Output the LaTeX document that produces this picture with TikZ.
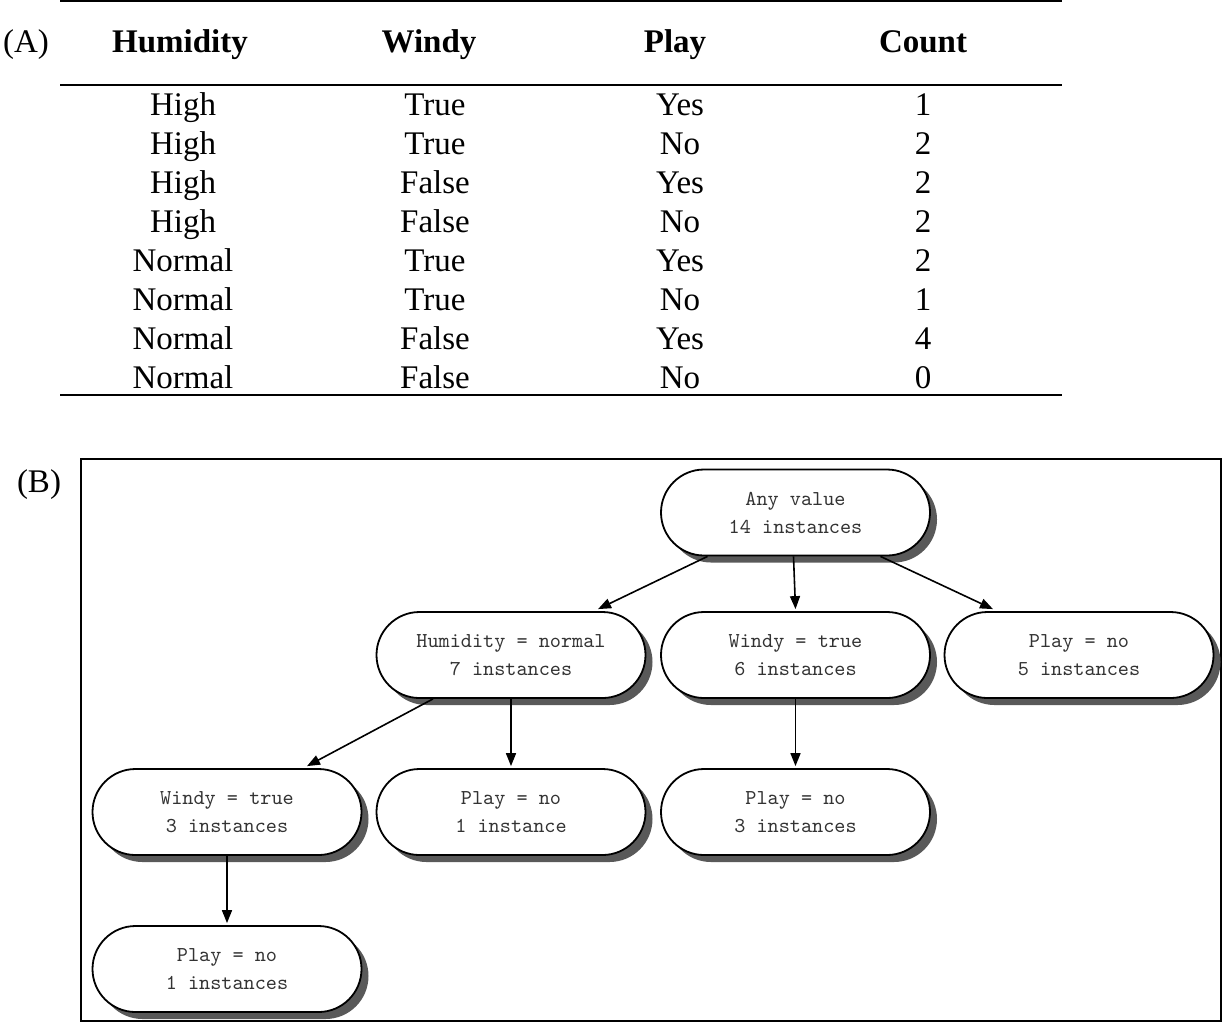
\documentclass[tikz,border=0pt]{standalone}
\usepackage{fontspec}
\setmainfont{Liberation Serif}
\usetikzlibrary{shadows,arrows.meta,calc}
\begin{document}
\begin{tikzpicture}[x=0.5pt,y=-0.5pt,
 box/.style={draw=black, line width=0.9pt, fill=white, rounded corners=21.5pt,
   minimum width=134.5pt, minimum height=43pt, align=center, inner sep=0pt,
   font=\ttfamily\fontsize{10.6}{14}\selectfont, text=black!80,
   drop shadow={shadow xshift=3.5pt, shadow yshift=-3.5pt, fill=black!65, opacity=1}},
 arr/.style={line width=0.8pt, -{Triangle[length=6.5pt,width=5pt]}},
 cell/.style={font=\fontsize{16.5}{20}\selectfont, anchor=center, inner sep=0pt,
   text height=10.9pt, text depth=0pt},
 head/.style={cell, font=\bfseries\fontsize{16.5}{20}\selectfont},
 rule/.style={line width=1pt}]
\useasboundingbox (0,0) rectangle (1225,1024);

% ---------- (A) table ----------
\node[cell] (labA) at (26,42) {(A)};
\draw[rule] (60,1) -- (1062,1);
\draw[rule] (60,85) -- (1062,85);
\draw[rule] (60,395) -- (1062,395);
\node[head] (h1) at (180,42) {Humidity};
\node[head] (h2) at (429,42) {Windy};
\node[head] (h3) at (675,42) {Play};
\node[head] (h4) at (923,42) {Count};
\foreach \i/\yy/\a/\b/\c/\d in {
  1/105/High/True/Yes/1,
  2/144/High/True/No/2,
  3/183/High/False/Yes/2,
  4/222/High/False/No/2,
  5/261/Normal/True/Yes/2,
  6/300/Normal/True/No/1,
  7/339/Normal/False/Yes/4,
  8/378/Normal/False/No/0}{
  \node[cell] (r\i a) at (183,\yy) {\a};
  \node[cell] (r\i b) at (435,\yy) {\b};
  \node[cell] (r\i c) at (680,\yy) {\c};
  \node[cell] (r\i d) at (923,\yy) {\d};
}

% ---------- (B) tree ----------
\node[cell] (labB) at (39,482) {(B)};
\draw[line width=1pt] (81,459) rectangle (1221,1021);

\node[box] (any) at (795.5,512.5) {Any value\\14 instances};
\node[box] (hum) at (511,655) {Humidity = normal\\7 instances};
\node[box] (win) at (795.5,655) {Windy = true\\6 instances};
\node[box] (p5) at (1079,655) {Play = no\\5 instances};
\node[box] (w3) at (227,812) {Windy = true\\3 instances};
\node[box] (p1) at (511,812) {Play = no\\1 instance};
\node[box] (p3) at (795.5,812) {Play = no\\3 instances};
\node[box] (p4) at (227,969) {Play = no\\1 instances};

\draw[arr] ($(any.south)+(-88,0)$) -- ($(hum.north)+(87,-2)$);
\draw[arr] ($(any.south)+(-2,0)$) -- ($(win.north)+(0,-2)$);
\draw[arr] ($(any.south)+(85,0)$) -- ($(p5.north)+(-86,-2)$);
\draw[arr] ($(hum.south)+(-78,0)$) -- ($(w3.north)+(80,-2)$);
\draw[arr] (hum.south) -- ($(p1.north)+(0,-2)$);
\draw[arr] (win.south) -- ($(p3.north)+(0,-2)$);
\draw[arr] (w3.south) -- ($(p4.north)+(0,-2)$);
\end{tikzpicture}
\end{document}
